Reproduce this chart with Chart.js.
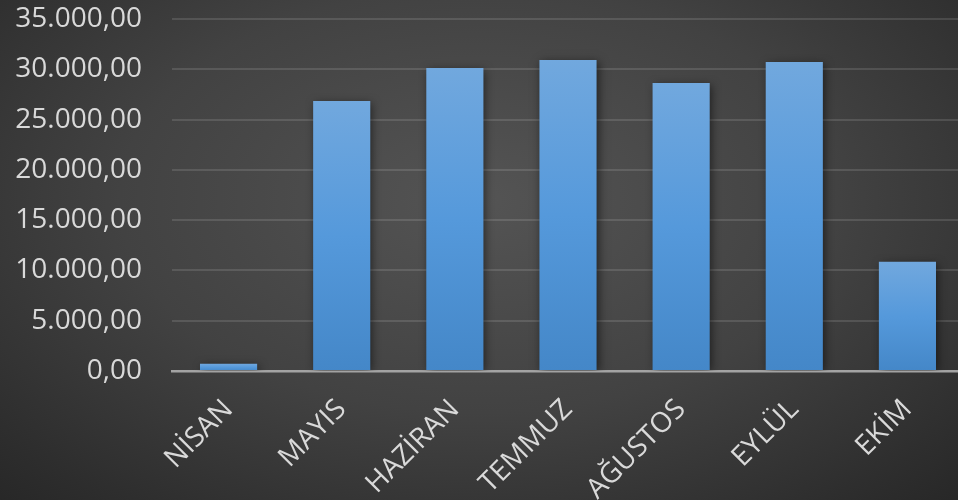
<!DOCTYPE html>
<html>
<head>
<meta charset="utf-8">
<script src="https://cdn.jsdelivr.net/npm/chart.js@4"></script>
<style>
  html, body { margin: 0; padding: 0; overflow: hidden; }
  body {
    width: 958px; height: 500px;
    background: radial-gradient(ellipse 75% 85% at 50% 40%, #545454 0%, #424242 50%, #2e2e2e 85%, #262626 100%);
  }
  #wrap { position: relative; width: 964px; height: 500px; }
</style>
</head>
<body>
<div id="wrap"><canvas id="barChart"></canvas></div>
<script>
const months = ['NİSAN', 'MAYIS', 'HAZİRAN', 'TEMMUZ', 'AĞUSTOS', 'EYLÜL', 'EKİM'];
const totals = [730, 26850, 30130, 30920, 28640, 30730, 10860];
const yMax = 35000;
const yStep = 5000;

const trFormat = new Intl.NumberFormat('tr-TR', { minimumFractionDigits: 2, maximumFractionDigits: 2 });

// gradient for each bar, from its top to the zero line
const barFill = (ctx) => {
  const chart = ctx.chart;
  const y = chart.scales.y;
  if (!chart.chartArea || ctx.parsed === undefined) return '#5599db';
  const top = y.getPixelForValue(ctx.parsed.y);
  const bottom = y.getPixelForValue(0);
  if (!isFinite(top) || bottom - top < 1) return '#6fa6dc';
  const g = chart.ctx.createLinearGradient(0, top, 0, bottom);
  g.addColorStop(0, '#71a8de');
  g.addColorStop(0.5, '#5599db');
  g.addColorStop(1, '#4487c8');
  return g;
};

const barShadow = {
  id: 'barShadow',
  beforeDatasetsDraw(chart) {
    const c = chart.ctx;
    c.save();
    c.shadowColor = 'rgba(0, 0, 0, 0.55)';
    c.shadowBlur = 9;
    c.shadowOffsetX = 2;
    c.shadowOffsetY = 2;
  },
  afterDatasetsDraw(chart) {
    chart.ctx.restore();
  }
};

new Chart(document.getElementById('barChart').getContext('2d'), {
  type: 'bar',
  data: {
    labels: months,
    datasets: [{
      label: 'Toplam',
      data: totals,
      backgroundColor: barFill,
      borderWidth: 0,
      barPercentage: 0.505,
      categoryPercentage: 1
    }]
  },
  plugins: [barShadow],
  options: {
    responsive: true,
    maintainAspectRatio: false,
    animation: false,
    layout: { padding: { top: 19, right: 0, left: 0, bottom: 0 } },
    plugins: {
      legend: { display: false },
      tooltip: { enabled: false }
    },
    scales: {
      x: {
        z: 1,
        grid: { display: false },
        border: { display: true, color: '#a3a3a3', width: 2.5 },
        ticks: {
          color: '#d9d9d9',
          font: { family: '"Open Sans"', size: 28 },
          minRotation: 45,
          maxRotation: 45,
          padding: 14
        },
        afterFit: (s) => { s.height = 129; s.paddingTop = 0; }
      },
      y: {
        min: 0,
        max: yMax,
        border: { display: false },
        grid: {
          color: (ctx) => ctx.tick && ctx.tick.value === 0 ? 'rgba(0,0,0,0)' : 'rgba(255, 255, 255, 0.12)',
          lineWidth: 2,
          drawTicks: false
        },
        ticks: {
          stepSize: yStep,
          color: '#d9d9d9',
          font: { family: '"Open Sans"', size: 28 },
          padding: 30,
          callback: (v) => trFormat.format(v)
        },
        afterFit: (s) => { s.width = 172; s.paddingTop = 0; s.paddingBottom = 0; }
      }
    }
  }
});
</script>
</body>
</html>
